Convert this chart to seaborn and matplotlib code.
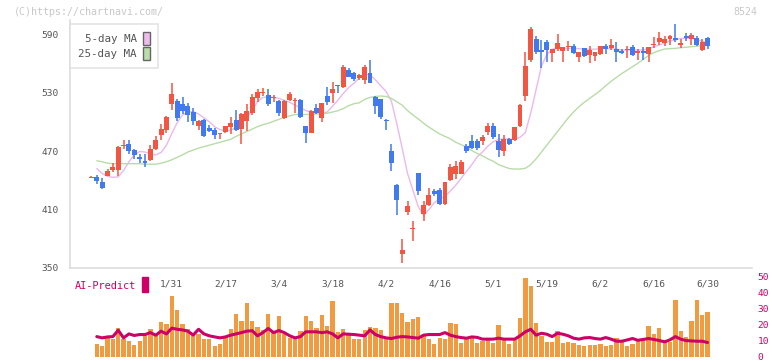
import numpy as np
import pandas as pd
import matplotlib
matplotlib.use("Agg")
import matplotlib.pyplot as plt
import seaborn as sns
from matplotlib.patches import Patch

sns.set_style("white")
plt.rcParams['font.family'] = ['DejaVu Sans Mono', 'DejaVu Sans']

# daily candles (trading day index 0..115)
opens = [442.5, 443.5, 438.5, 444.7, 451, 451, 475.5, 477, 471, 464,
         459.7, 461, 472, 486, 491.5, 518, 521, 518, 516, 510,
         496, 502, 493.6, 491.5, 487, 489.5, 494.6, 502, 492.6, 501,
         509, 524.4, 529.5, 527.5, 524.5, 521, 504, 522.4, 521, 522.6,
         495.6, 488.8, 514, 504, 526.4, 529.5, 537.7, 535.6, 553, 550,
         545, 542.8, 550, 525.7, 523, 502.3, 470, 435.5, 364.7, 407.4,
         389.5, 447.4, 405.7, 414.6, 429, 430, 415.6, 440, 446.4, 446.4,
         475, 480, 480, 480.3, 489.5, 495.6, 480, 470, 482, 481,
         495.6, 526.4, 563.3, 585, 573.6, 582, 570.5, 574.6, 572.6, 577.2,
         577.7, 566.4, 575.6, 568.5, 567.4, 569.5, 577.7, 575.6, 574.6, 572.6,
         573.6, 576.7, 570.5, 572.6, 569.5, 578.7, 581.8, 580.8, 584.9, 586,
         579, 588, 584.9, 586, 573.6, 586]
highs = [444, 445.5, 442, 452, 457.7, 475, 481, 481, 472, 466.6,
         466.6, 476, 485, 497.4, 506, 539.7, 523.3, 525, 519.5, 514,
         502, 503, 497, 494, 488.5, 496, 505, 512, 508.5, 518,
         528, 534, 535, 534, 527.5, 522, 522, 530.5, 524, 523.5,
         496, 512, 518.5, 519, 535.6, 540.6, 538, 558, 555, 551,
         548.5, 558, 563.3, 526, 523.5, 503, 477, 436, 379.7, 418.7,
         398, 447.6, 418.7, 432, 431, 432, 438.5, 456.7, 459.7, 460.8,
         477, 486, 482, 486.5, 498.7, 498.7, 487.4, 486.5, 483, 495,
         518, 571.5, 597, 588, 584, 584, 575, 590, 577, 583.3,
         580, 572, 576, 577.7, 572, 577.7, 580, 585, 581.8, 574.6,
         577.7, 578.7, 574.6, 576.7, 576.7, 587, 592, 588, 589, 600,
         584.9, 591, 591, 588, 584.9, 587]
lows = [442, 436, 431, 444, 448.8, 444, 472, 466.6, 462, 457.4,
        454, 460, 471, 481, 488, 512, 500.8, 508, 500, 497,
        492, 484, 489, 482, 482, 488, 487.5, 490.5, 477, 490.5,
        507, 520, 526, 516, 520, 506, 503, 521, 509, 504,
        478.7, 488, 508, 500, 517, 519.6, 529.5, 535, 546, 541.6,
        542.6, 539, 539.7, 508, 503, 491.5, 450, 404, 355.4, 404,
        377.7, 424.5, 398, 413.6, 424, 414.6, 415, 439, 441, 446,
        467.6, 472, 471, 476, 486, 482, 464, 465, 476, 480,
        495, 521, 561, 569.5, 555, 561, 561.4, 572.6, 561.4, 572.5,
        569.5, 561.4, 566, 560, 562.4, 568.5, 569.5, 573.6, 561.4, 569.5,
        565, 567.4, 563.3, 563.3, 561.3, 575.6, 578.7, 577.7, 578.7, 581.8,
        575.6, 583.3, 578.7, 577.7, 572.6, 574.6]
closes = [443.5, 439.5, 432.5, 449.5, 453.6, 474, 476.5, 470, 466, 462,
          457.5, 472, 481, 492.6, 505, 528.5, 504, 511, 507, 501,
          501, 485.5, 490.5, 486, 488, 495.6, 498.7, 491.5, 508, 511,
          525.4, 530.5, 530.5, 518, 525.5, 509, 521, 528.5, 522, 505,
          488.8, 511, 509, 519, 520.3, 533.6, 536.7, 556, 546, 544,
          548, 556, 539.7, 516, 504.6, 501.3, 458, 419.7, 368.8, 413.6,
          391, 429, 414.6, 425, 426, 415.6, 438, 453.6, 454.6, 458.7,
          470, 473, 473.5, 484.4, 495.6, 484.4, 471, 482.3, 477, 494.6,
          517, 557, 595, 571.5, 572, 573.6, 574.6, 580.8, 576.7, 578,
          570.5, 571.5, 567.4, 573.6, 571.5, 577.7, 574.6, 578.7, 571.5, 570.5,
          574.6, 568.5, 572.6, 570.5, 576.7, 579.7, 586, 584.9, 588, 583.8,
          580.8, 586, 589, 578.7, 581.8, 577.7]

# moving averages, volume and AI-Predict start at day 1
ma5 = [452, 447, 444, 443, 443.5, 450, 459, 466, 469.5, 469,
       467, 466, 468.5, 476, 488, 499, 507, 510, 510.5, 508,
       504, 500, 495, 492, 490.8, 491.5, 494, 498, 504, 512,
       520.6, 525, 525.5, 525, 524, 522, 520, 517, 514.5, 511.5,
       510, 508.7, 509, 510, 516, 522, 529, 535, 539.5, 545,
       548.5, 548, 543, 537, 531, 521, 498, 473, 447, 430,
       413, 404, 410, 417, 421, 423.5, 429, 435, 442, 449,
       456, 464, 469, 475, 479.5, 482, 482.3, 482.3, 482.3, 484,
       489, 509, 533, 557, 569, 574.5, 575.3, 575.3, 575.3, 575.3,
       575, 574.5, 574.3, 574.5, 575, 575.3, 575, 574.5, 573.6, 573.6,
       573.6, 573.6, 573.6, 575, 577, 578.7, 581, 583, 584, 585.5,
       585.6, 585.6, 584.5, 582.5, 581]
ma25 = [460, 459, 457.5, 457, 457, 457, 457, 457, 457, 456.5,
        456.5, 456.5, 457.5, 459, 461, 463.5, 466, 469, 471, 473,
        474.5, 476, 477.5, 479, 480.5, 482, 485, 487.5, 490, 492.5,
        495, 497, 498.5, 500.5, 502.5, 504.5, 506, 507.5, 507.5, 507.5,
        507.5, 508, 508.5, 508.7, 510, 511.3, 513.5, 516.5, 518.5, 519.5,
        523, 525, 526, 526.4, 526, 524, 520.5, 517, 511.5, 507,
        503, 498.5, 494.5, 491, 487.5, 485, 482.5, 479, 476.5, 474,
        470.5, 467.5, 465, 462, 459.5, 456, 454, 452, 451.5, 451.5,
        452.3, 456, 462, 469, 476, 483, 490, 497, 504, 510,
        515.5, 520, 524, 528, 532, 537, 541.5, 545.5, 549.5, 553,
        556.5, 560, 564, 568, 571, 573, 574.6, 575, 575.3, 576,
        576.5, 577, 577.5, 578, 578]
volume = [7.7, 6.5, 11.5, 11.1, 17.8, 11.3, 9.6, 7.1, 9.6, 14.0,
          17.1, 13.8, 21.5, 20.3, 37.9, 29.1, 20.3, 17.4, 14.0, 14.0,
          11.1, 11.1, 6.5, 7.7, 11.9, 17.1, 26.6, 22.4, 33.5, 22.4,
          18.8, 16.9, 26.6, 15.3, 25.3, 14.4, 11.9, 11.3, 16.1, 25.3,
          22.4, 17.8, 25.9, 19.0, 34.7, 15.3, 17.1, 13.8, 11.1, 11.1,
          16.7, 18.4, 17.6, 16.7, 10.7, 33.5, 33.5, 27.2, 21.5, 23.4,
          24.7, 13.4, 10.9, 7.7, 11.5, 10.9, 20.9, 20.3, 8.4, 11.5,
          11.5, 8.4, 9.6, 10.2, 8.4, 19.7, 10.2, 7.7, 10.2, 24.1,
          49.2, 44.1, 20.9, 12.8, 9.0, 9.0, 15.9, 8.4, 9.0, 8.4,
          7.1, 6.5, 7.5, 7.1, 7.7, 6.5, 7.1, 11.5, 9.0, 6.5,
          7.7, 10.2, 10.2, 19.0, 14.0, 17.8, 10.2, 9.0, 35.4, 15.9,
          12.1, 22.2, 35.4, 25.9, 27.8]
ai_predict = [12.5, 11.7, 12.3, 12.5, 16.5, 11.7, 14.2, 13.2, 13.8, 13.8,
              15.0, 13.4, 15.9, 14.2, 17.8, 17.1, 16.7, 15.9, 13.5, 17.1,
              14.2, 13.0, 12.3, 11.7, 12.3, 13.4, 14.2, 15.0, 15.9, 16.2,
              13.0, 15.0, 17.6, 15.0, 16.3, 15.0, 13.0, 11.7, 12.5, 15.5,
              15.5, 15.5, 15.0, 15.5, 14.2, 11.7, 14.2, 14.0, 13.8, 13.4,
              13.0, 16.7, 13.8, 12.5, 11.7, 11.3, 12.1, 12.5, 12.3, 11.9,
              11.5, 13.4, 13.8, 13.8, 13.8, 15.0, 13.4, 12.5, 11.9, 11.5,
              12.3, 12.0, 10.9, 10.9, 10.9, 11.5, 10.9, 10.9, 10.9, 13.0,
              15.5, 17.1, 13.4, 14.6, 14.0, 12.5, 14.6, 14.0, 13.0, 11.5,
              10.9, 11.7, 11.9, 11.3, 10.9, 11.9, 10.9, 9.6, 9.6, 10.4,
              11.3, 10.2, 10.7, 11.3, 10.7, 10.0, 9.2, 10.5, 12.5, 10.9,
              10.0, 9.8, 9.6, 9.6, 8.8]

date_labels = ['1/31', '2/17', '3/4', '3/18', '4/2', '4/16',
               '5/1', '5/19', '6/2', '6/16', '6/30']
label_days = list(range(15, 116, 10))
price_ticks = [350, 410, 470, 530, 590]
ai_ticks = [0, 10, 20, 30, 40, 50]

UP = '#f25541'
DOWN = '#4179ee'
GRID = '#dddddd'
MAGENTA = '#cc0066'
TXT = '#555555'

candles = pd.DataFrame({'open': opens, 'high': highs, 'low': lows, 'close': closes})
candles['day'] = np.arange(len(candles))
later = pd.DataFrame({'day': np.arange(1, len(candles)), 'ma5': ma5, 'ma25': ma25,
                      'volume': volume, 'ai': ai_predict})

W, H = 772, 361
fig = plt.figure(figsize=(W / 100, H / 100), dpi=100)
ax = fig.add_axes([70 / W, 1 - 268 / H, 682 / W, 248 / H])
ax2 = fig.add_axes([70 / W, 1 - 356.5 / H, 682 / W, 79.6 / H], sharex=ax)

# candlesticks
colors = np.where(candles['close'] >= candles['open'], UP, DOWN)
ax.vlines(candles['day'], candles['low'], candles['high'], colors=colors, lw=1.1, zorder=3)
body_lo = candles[['open', 'close']].min(axis=1)
body_h = (candles['close'] - candles['open']).abs().clip(lower=0.9)
ax.bar(candles['day'], body_h, bottom=body_lo, width=0.92, color=colors, lw=0, zorder=4)

# moving averages
sns.lineplot(data=later, x='day', y='ma5', ax=ax, color='#ebb8ee', lw=1, zorder=2)
sns.lineplot(data=later, x='day', y='ma25', ax=ax, color='#b8dca8', lw=1, zorder=2)

ax.set_xlim(-4, 123.3)
ax.set_ylim(350, 604.4)
ax.set_xlabel('')
ax.set_ylabel('')
ax.set_yticks(price_ticks)
ax.set_yticklabels([str(t) for t in price_ticks])
ax.set_xticks(label_days)
ax.set_xticklabels(date_labels)
ax.set_xticks(np.linspace(-4, 123.3, 12), minor=True)
ax.tick_params(axis='x', which='major', length=0, pad=8, labelsize=6.8, labelcolor=TXT)
ax.tick_params(axis='x', which='minor', length=8, width=1, color=GRID, direction='inout')
ax.tick_params(axis='y', length=8, width=1, color=GRID, direction='inout', pad=4,
               labelsize=6.8, labelcolor=TXT)
for side in ['top', 'right']:
    ax.spines[side].set_visible(False)
for side in ['left', 'bottom']:
    ax.spines[side].set_color(GRID)
    ax.spines[side].set_linewidth(1.2)

handles = [Patch(facecolor='#eebbee', edgecolor='#666666', lw=1),
           Patch(facecolor='#bbddaa', edgecolor='#666666', lw=1)]
leg = ax.legend(handles, ['5-day MA', '25-day MA'], loc='upper left',
                bbox_to_anchor=(70 / W, 1 - 24 / H), bbox_transform=fig.transFigure,
                markerfirst=False, fancybox=False, frameon=True, fontsize=7.8,
                handlelength=0.62, handleheight=1.5, handletextpad=0.6,
                labelspacing=0.15, borderpad=0.75, borderaxespad=0)
leg.get_frame().set_edgecolor(GRID)
leg.get_frame().set_linewidth(1.2)
for t in leg.get_texts():
    t.set_color(TXT)

# volume bars and AI-Predict line
sns.barplot(data=later, x='day', y='volume', ax=ax2, native_scale=True, color='#f29a40',
            saturation=1, width=0.8, linewidth=0, zorder=1)
sns.lineplot(data=later, x='day', y='ai', ax=ax2, color=MAGENTA, lw=2.2, zorder=3)
ax2.set_ylim(0, 50)
ax2.set_xlim(-4, 123.3)
ax2.set_xlabel('')
ax2.set_ylabel('')
ax2.yaxis.tick_right()
ax2.set_yticks(ai_ticks)
ax2.set_yticklabels([str(t) for t in ai_ticks])
ax2.tick_params(axis='y', length=0, pad=4, labelsize=6.8, labelcolor=MAGENTA)
ax2.tick_params(axis='x', which='both', length=0, labelbottom=False)
for s in ax2.spines.values():
    s.set_visible(False)
ax2.patch.set_alpha(0)

fig.text(75 / W, 1 - 286 / H, 'AI-Predict', color=MAGENTA, fontsize=7.4, va='center')
fig.patches.append(plt.Rectangle((142 / W, 1 - 292 / H), 6 / W, 15 / H, color=MAGENTA,
                                 transform=fig.transFigure, figure=fig))
fig.text(14 / W, 1 - 12 / H, '(C)https://chartnavi.com/', color='#c8c8c8', fontsize=7.2, va='center')
fig.text(757 / W, 1 - 12 / H, '8524', color='#c8c8c8', fontsize=7.2, va='center', ha='right')

fig.savefig('out.png', dpi=100)
